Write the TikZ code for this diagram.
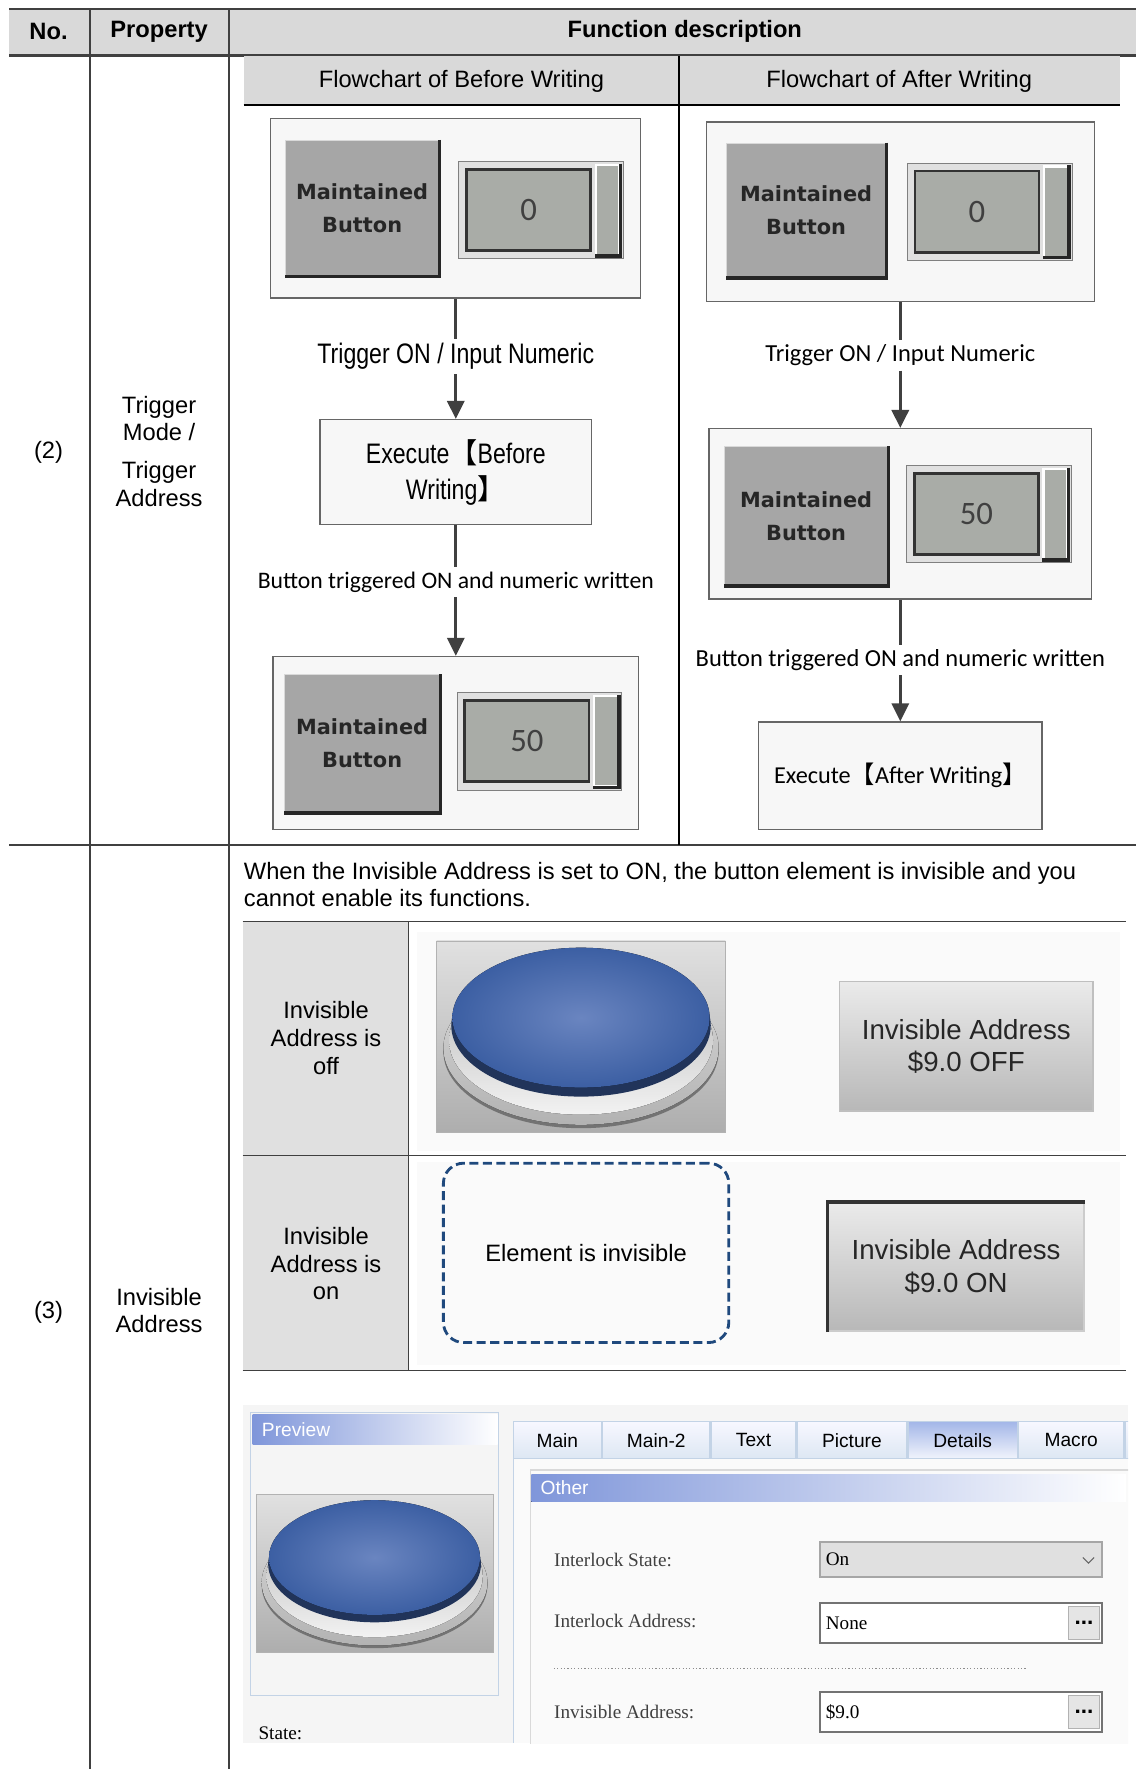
\documentclass[tikz,border=0pt]{standalone}
\usepackage{fontspec}
\setmainfont{Liberation Sans}
\newfontfamily\narrowfont[FakeStretch=0.82]{Liberation Sans}
\newfontfamily\calfont{Carlito}
\newfontfamily\tahfont{DejaVu Sans}
\newfontfamily\uifont{Liberation Serif}
\newfontfamily\cjk{Noto Sans CJK SC}
\usetikzlibrary{arrows.meta,positioning}

\definecolor{hdrgray}{HTML}{D9D9D9}
\definecolor{cellgray}{HTML}{E0E0E0}
\definecolor{btngray}{HTML}{A6A6A6}
\definecolor{dispgray}{HTML}{A9ACA7}
\definecolor{dashblue}{HTML}{1F497D}
\definecolor{capblue}{HTML}{7F96DA}
\definecolor{tabline}{HTML}{C3D3E6}
\definecolor{tabfill}{HTML}{DDE7F3}
\definecolor{selblue}{HTML}{A3B6E8}
\definecolor{btnblue}{HTML}{3C5FA3}
\definecolor{btnhigh}{HTML}{6A85C0}

\tikzset{
  rule/.style={black!75, line width=1.6pt},
  cell/.style={inner sep=2pt, align=center, font=\fontsize{21}{24}\selectfont},
  hdr/.style={font=\bfseries\fontsize{21}{24}\selectfont},
  panel/.style={draw=black!60, line width=1.2pt, fill=white!97!black},
  mbtn/.style={draw=white!85!black, line width=1pt, fill=btngray, minimum width=136pt, minimum height=120pt,
    align=center, text=black!85, font=\tahfont\bfseries\fontsize{18.5}{29}\selectfont},
  bevel/.style={black!85, line width=3pt},
  numframe/.style={draw=black!50, fill=white!88!black, minimum width=146pt, minimum height=86pt},
  numfield/.style={draw=black!80, line width=2.5pt, fill=dispgray, minimum width=110pt, minimum height=72pt,
    text=black!75, font=\calfont\fontsize{29}{29}\selectfont},
  numslide/.style={draw=white, line width=2pt, fill=dispgray, minimum width=21pt, minimum height=80pt},
  exbox/.style={panel, minimum width=241pt, minimum height=93pt, align=center},
  flowlabel/.style={inner sep=4pt},
  flowline/.style={black!75, line width=3pt},
  flowarrow/.style={flowline, -{Triangle[width=15pt,length=16pt]}},
  offbox/.style={draw=black!25, line width=1.5pt, top color=white!92!black, bottom color=black!28,
    minimum width=225pt, minimum height=115pt, align=center, text=black!85, font=\fontsize{24.5}{29}\selectfont},
  onbox/.style={offbox, draw=white!80!black, minimum width=227pt, minimum height=114pt},
  invbox/.style={draw=dashblue, line width=2.5pt, dash pattern=on 8pt off 4pt, rounded corners=18pt,
    minimum width=253pt, minimum height=159pt, font=\fontsize{21}{24}\selectfont},
  tab/.style={draw=tabline, line width=1.2pt, top color=white!97!blue, bottom color=tabfill,
    minimum height=33pt, inner sep=0pt, font=\fontsize{17}{17}\selectfont},
  seltab/.style={top color=selblue, bottom color=white!85!selblue},
  captxt/.style={anchor=west, inner sep=2pt, text=white, font=\fontsize{17}{17}\selectfont},
  uilbl/.style={anchor=west, inner sep=2pt, text=black!75, font=\uifont\fontsize{17}{17}\selectfont},
  field/.style={draw=black!55, line width=1.5pt, fill=white, minimum height=35pt, text width=240pt,
    inner xsep=5pt, align=left, font=\uifont\fontsize{17}{17}\selectfont},
  dotbtn/.style={draw=black!30, fill=black!10, minimum width=27pt, minimum height=29pt, inner sep=0pt,
    font=\bfseries\fontsize{20}{20}\selectfont},
  pics/numdisp/.style={code={
    \node[numframe] (-frame) at (0,0) {};
    \node[numfield] (-field) at (-11,0) {#1};
    \node[numslide] (-slide) at (59,0) {};
    \draw[bevel] (-slide.north east) -- (-slide.south east) -- (-slide.south west);
  }},
  pics/pushbtn/.style={code={
    \draw[black!30, top color=black!12, bottom color=black!32] (-128,-85) rectangle (128,85);
    \fill[black!55] (0,13) ellipse [x radius=122, y radius=68];
    \fill[top color=white!85!black, bottom color=black!30] (0,10) ellipse [x radius=122, y radius=68];
    \fill[top color=black!30, bottom color=white!95!black] (0,3) ellipse [x radius=117, y radius=66];
    \fill[btnblue!55!black] (0,-10) ellipse [x radius=115, y radius=63];
    \fill[inner color=btnhigh, outer color=btnblue] (0,-17) ellipse [x radius=114, y radius=62];
  }}
}

\begin{document}
\begin{tikzpicture}[x=1pt, y=-1pt]
\useasboundingbox (0,0) rectangle (1007,1568);

\fill[hdrgray] (8,8) rectangle (1007,49);
\draw[rule] (8,8) -- (1007,8);
\draw[rule, line width=2.2pt] (8,49) -- (1007,49);
\draw[rule] (80,8) -- (80,1568);
\draw[rule] (203,8) -- (203,1568);
\draw[rule, line width=2pt] (8,749) -- (1007,749);

\node[hdr] (hno) at (43,28) {No.};
\node[hdr] (hprop) at (141,28) {Property};
\node[hdr] (hfunc) at (607,28) {Function description};

\node[cell] (no2) at (43,401) {(2)};
\node[cell] (prop2) at (141,400) {Trigger\\Mode /\\[10pt]Trigger\\Address};

\fill[hdrgray] (216,50) rectangle (993,93);
\draw[black, line width=2.5pt] (216,93) -- (993,93);
\draw[black, line width=1.5pt] (602,50) -- (602,749);
\node[cell] (fbefore) at (409,72) {Flowchart of Before Writing};
\node[cell] (fafter) at (797,72) {Flowchart of After Writing};

\node[panel, minimum width=328pt, minimum height=159pt] (lb1) at (404,184.5) {};
\node[mbtn] (lb1m) at (321,184.5) {Maintained\\Button};
\draw[bevel] (lb1m.north east) -- (lb1m.south east) -- (lb1m.south west);
\pic (lb1n) at (479.5,186) {numdisp=0};
\node[flowlabel, font=\narrowfont\fontsize{25}{25}\selectfont] (lt1) at (404,316) {Trigger ON / Input Numeric};
\node[exbox, font=\narrowfont\fontsize{25}{32}\selectfont] (le1) at (404,418.5) {Execute{\cjk 【}Before\\Writing{\cjk 】}};
\node[flowlabel, font=\calfont\fontsize{21}{21}\selectfont] (lt2) at (404,516) {Button triggered ON and numeric written};
\node[panel, minimum width=324pt, minimum height=153pt] (lb3) at (404,658.5) {};
\node[mbtn, minimum width=138pt, minimum height=122pt] (lb3m) at (321,659) {Maintained\\Button};
\draw[bevel] (lb3m.north east) -- (lb3m.south east) -- (lb3m.south west);
\pic (lb3n) at (478,657) {numdisp=50};
\draw[flowline] (lb1) -- (lt1);
\draw[flowarrow] (lt1) -- (le1);
\draw[flowline] (le1) -- (lt2);
\draw[flowarrow] (lt2) -- (lb3);

\node[panel, minimum width=344pt, minimum height=159pt] (rb1) at (798,187.5) {};
\node[mbtn, minimum width=141pt, minimum height=119pt] (rb1m) at (714.5,186.5) {Maintained\\Button};
\draw[bevel] (rb1m.north east) -- (rb1m.south east) -- (rb1m.south west);
\pic (rb1n) at (877,187.5) {numdisp=0};
\node[flowlabel, font=\calfont\fontsize{21.7}{21.7}\selectfont] (rt1) at (798,315) {Trigger ON / Input Numeric};
\node[panel, minimum width=339pt, minimum height=151pt] (rb2) at (798,455.5) {};
\node[mbtn, minimum width=145pt, minimum height=123pt] (rb2m) at (714.5,457.5) {Maintained\\Button};
\draw[bevel] (rb2m.north east) -- (rb2m.south east) -- (rb2m.south west);
\pic (rb2n) at (876.5,455.5) {numdisp=50};
\node[flowlabel, font=\calfont\fontsize{21.7}{21.7}\selectfont] (rt2) at (798,585) {Button triggered ON and numeric written};
\node[exbox, minimum width=251pt, minimum height=95pt, font=\calfont\fontsize{21.5}{24}\selectfont] (re2) at (798,687.5) {Execute{\cjk 【}After Writing{\cjk 】}};
\draw[flowline] (rb1) -- (rt1);
\draw[flowarrow] (rt1) -- (rb2);
\draw[flowline] (rb2) -- (rt2);
\draw[flowarrow] (rt2) -- (re2);

\node[cell] (no3) at (43,1163) {(3)};
\node[cell] (prop3) at (141,1162) {Invisible\\Address};
\node[cell, anchor=west, align=left] (intro3) at (214,784) {When the Invisible Address is set to ON, the button element is invisible and you\\cannot enable its functions.};

\fill[cellgray] (215,817) rectangle (362,1215);
\fill[white!98!black] (370,826) rectangle (993,1020);
\fill[white!98!black] (370,1030) rectangle (993,1210);
\draw[rule, line width=1.2pt] (215,817) -- (998,817);
\draw[rule, line width=1.2pt] (215,1024) -- (998,1024);
\draw[rule, line width=1.2pt] (215,1215) -- (998,1215);
\draw[rule, line width=1.2pt] (362,817) -- (362,1215);

\node[cell, font=\fontsize{21}{24.5}\selectfont] (offlbl) at (289,920) {Invisible\\Address is\\off};
\pic (offbtn) at (515,919) {pushbtn};
\node[offbox] (offstate) at (856.5,927.5) {Invisible Address\\\$9.0 OFF};
\node[cell, font=\fontsize{21}{24.5}\selectfont] (onlbl) at (289,1120) {Invisible\\Address is\\on};
\node[invbox] (hidden) at (519.5,1110.5) {Element is invisible};
\node[onbox] (onstate) at (847.5,1123) {Invisible Address\\\$9.0 ON};
\draw[black!80, line width=3pt] (onstate.south west) -- (onstate.north west) -- (onstate.north east);

\begin{scope}
  \clip (215,1245) rectangle (1000,1545);
  \fill[white!96!black] (215,1245) rectangle (1000,1545);
  \draw[tabline, line width=1.2pt, fill=white!96!black] (222,1252) rectangle (442,1503);
  \fill[left color=capblue, right color=white] (224,1254) rectangle (441,1280);
  \node[captxt] (prevcap) at (230,1267) {Preview};
  \pic[scale=0.82] (prevbtn) at (332,1394.5) {pushbtn};
  \node[uilbl, text=black] (state) at (227,1536) {State:};

  \fill[white!98!black] (455,1293) rectangle (1000,1545);
  \draw[tabline, line width=1.2pt] (455,1293) -- (455,1545);
  \node[tab, minimum width=78pt] (tmain) at (494,1276.5) {Main};
  \node[tab, right=0pt of tmain, minimum width=95pt] (tmain2) {Main-2};
  \node[tab, right=0pt of tmain2, minimum width=75pt] (ttext) {Text};
  \node[tab, right=0pt of ttext, minimum width=97pt] (tpic) {Picture};
  \node[tab, seltab, right=0pt of tpic, minimum width=97pt] (tdet) {Details};
  \node[tab, right=0pt of tdet, minimum width=93pt] (tmacro) {Macro};
  \node[tab, right=0pt of tmacro, minimum width=40pt] (tmore) {};

  \draw[black!15, line width=1.2pt, fill=white!98!black] (470,1303) rectangle (1010,1560);
  \fill[left color=capblue, right color=white] (471,1307) rectangle (998,1331);
  \node[captxt] (othercap) at (477,1319) {Other};

  \node[uilbl] (lstate) at (489,1383) {Interlock State:};
  \node[uilbl] (laddr) at (489,1437) {Interlock Address:};
  \node[uilbl] (linv) at (489,1517) {Invisible Address:};
  \draw[black!45, dotted, line width=1pt] (491,1479) -- (910,1479);

  \node[field, fill=black!12, draw=black!35, minimum height=31pt] (fstate) at (852,1382.5) {On};
  \draw[black!60, line width=1pt] ([xshift=-18pt,yshift=2pt]fstate.east) -- ++(5,5) -- ++(5,-5);
  \node[field] (faddr) at (852,1438.5) {None};
  \node[dotbtn] (faddrb) at ([xshift=-17pt]faddr.east) {...};
  \node[field] (finv) at (852,1517.5) {\$9.0};
  \node[dotbtn] (finvb) at ([xshift=-17pt]finv.east) {...};
\end{scope}
\end{tikzpicture}
\end{document}
